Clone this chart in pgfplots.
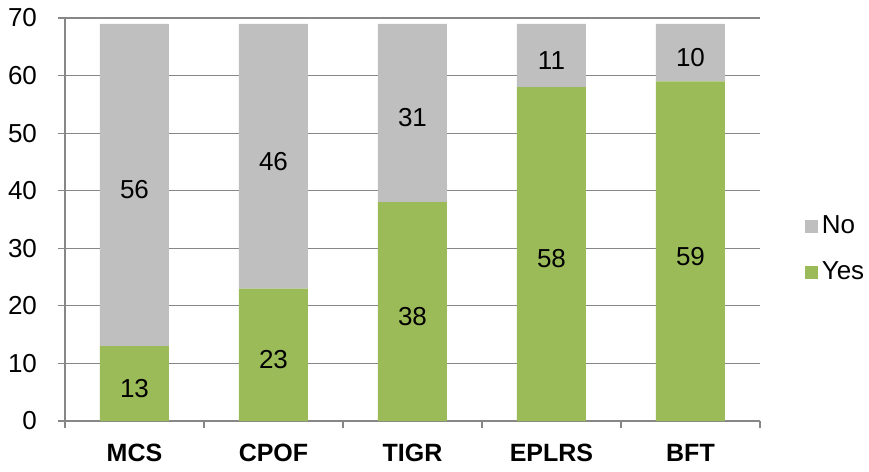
\documentclass[border=0pt]{standalone}
\usepackage{pgfplots}
\pgfplotsset{compat=1.18}
\usepackage{fontspec}
\setmainfont{Liberation Sans}
\definecolor{yesgreen}{HTML}{9BBB59}
\definecolor{nogray}{HTML}{BFBFBF}
\definecolor{gridgray}{HTML}{878787}
\begin{document}
\begin{tikzpicture}
\fontsize{13}{15}\selectfont
\path[use as bounding box] (-32.5pt,-25.5pt) rectangle (402pt,210.5pt);
\begin{axis}[
  at={(0pt,0pt)}, anchor=south west,
  scale only axis,
  width=347.5pt, height=201.5pt,
  ybar stacked,
  bar width=34.5pt,
  xmin=-0.5, xmax=4.5,
  ymin=0, ymax=70,
  ytick={0,10,...,70},
  xtick={0,1,2,3,4},
  xticklabels={MCS,CPOF,TIGR,EPLRS,BFT},
  minor xtick={-0.5,0.5,1.5,2.5,3.5,4.5},
  major x tick style={draw=none},
  minor x tick style={gridgray, line width=0.6pt},
  minor tick length=3.5pt,
  major tick length=3.5pt,
  tick align=outside,
  ytick style={gridgray, line width=0.6pt},
  ymajorgrids,
  grid style={gridgray, line width=0.6pt},
  axis x line*=bottom,
  axis y line*=left,
  axis line style={gridgray, line width=0.6pt, -},
  xticklabel style={font=\fontsize{12.5}{15}\selectfont\bfseries, yshift=-3.5pt},
  yticklabel style={font=\fontsize{13}{15}\selectfont, xshift=-6pt},
  /pgf/number format/assume math mode=true,
  tick label style={black},
  nodes near coords,
  point meta=rawy,
  every node near coord/.append style={anchor=center, black, yshift=-2.5pt,
     font=\fontsize{13}{15}\selectfont},
  legend style={at={(1.055,0.425)}, anchor=west, draw=none, fill=none,
     font=\fontsize{13}{15}\selectfont, row sep=8pt,
     /tikz/every even column/.append style={column sep=1pt}},
  legend cell align=left,
  reverse legend,
  area legend,
  clip=false,
]
\addplot[fill=yesgreen, draw=none,
  legend image code/.code={\fill[yesgreen] (0pt,-3.3pt) rectangle (6.6pt,3.3pt);}]
  coordinates {(0,13) (1,23) (2,38) (3,58) (4,59)};
\addlegendentry{Yes}
\addplot[fill=nogray, draw=none,
  legend image code/.code={\fill[nogray] (0pt,-3.3pt) rectangle (6.6pt,3.3pt);}]
  coordinates {(0,56) (1,46) (2,31) (3,11) (4,10)};
\addlegendentry{No}
\end{axis}
\end{tikzpicture}
\end{document}
